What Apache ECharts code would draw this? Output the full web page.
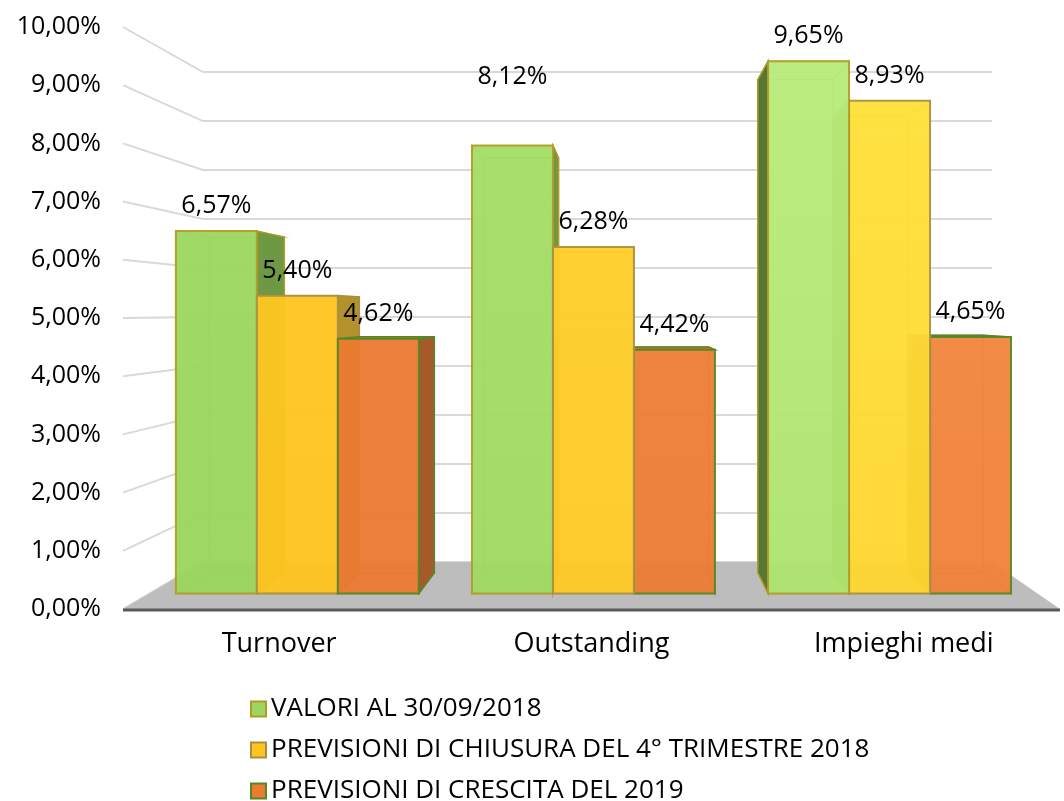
<!DOCTYPE html>
<html>
<head>
<meta charset="utf-8">
<script src="https://cdn.jsdelivr.net/npm/echarts@6/dist/echarts.min.js"></script>
<style>
  html, body { margin: 0; padding: 0; background: #fff; }
  #chart { width: 1064px; height: 801px; }
</style>
</head>
<body>
<div id="chart"></div>
<script>
  const CATEGORIES = ['Turnover', 'Outstanding', 'Impieghi medi'];
  const SERIES_NAMES = [
    'VALORI AL 30/09/2018',
    'PREVISIONI DI CHIUSURA DEL 4° TRIMESTRE 2018',
    'PREVISIONI DI CRESCITA DEL 2019'
  ];
  const VALORI = [6.57, 8.12, 9.65];
  const CHIUSURA = [5.40, 6.28, 8.93];
  const CRESCITA = [4.62, 4.42, 4.65];
  const Y_TICKS = [0, 1, 2, 3, 4, 5, 6, 7, 8, 9, 10];

  const FONT = 'Open Sans';

  // perspective: vanishing point and depth scales of each plane
  const VP_X = 0.54;        // fraction of grid width
  const VP_Y = 5.1;         // in axis units of the front plane
  const S_BAR_FRONT = 0.948;
  const S_BAR_BACK = 0.878;
  const S_WALL = 0.842;
  const BAR_FRAC = 0.2735;  // bar width / category band

  const STYLES = [
    { face: '#9bd65e', lit: '#cdfb8c', side: '#6f9844', edge: '#b39a24' },
    { face: '#ffc41f', lit: '#ffea42', side: '#b3922c', edge: '#a58f45' },
    { face: '#ec7a31', lit: '#f2873f', side: '#a65a2b', edge: '#4f8a27' }
  ];
  // Excel put this one label much higher than the others
  const LABEL_LIFT = { '1-0': 44 };

  const mix = (a, b, t) => echarts.color.lerp(Math.min(1, Math.max(0, t)), [a, b]);
  const fmt = v => v.toFixed(2).replace('.', ',') + '%';

  function vanish(cs, api) {
    return [cs.x + cs.width * VP_X, api.coord([0, VP_Y])[1]];
  }
  function proj(vp, x, y, s) {
    return [vp[0] + s * (x - vp[0]), vp[1] + s * (y - vp[1])];
  }

  function gridLineItem(params, api) {
    const cs = params.coordSys;
    const vp = vanish(cs, api);
    const y = api.coord([0, api.value(1)])[1];
    const l = cs.x, r = cs.x + cs.width;
    return {
      type: 'polyline',
      shape: { points: [[l, y], proj(vp, l, y, S_WALL), proj(vp, r, y, S_WALL)] },
      style: { stroke: '#d9d9d9', lineWidth: 2, fill: null }
    };
  }

  function floorItem(params, api) {
    const cs = params.coordSys;
    const vp = vanish(cs, api);
    const y = api.coord([0, 0])[1];
    const l = cs.x, r = cs.x + cs.width;
    return {
      type: 'group',
      children: [
        {
          type: 'polygon',
          shape: { points: [[l, y], [r, y], proj(vp, r, y, S_WALL), proj(vp, l, y, S_WALL)] },
          style: { fill: '#bdbdbd' }
        },
        {
          type: 'line',
          shape: { x1: l, y1: y + 1, x2: r, y2: y + 1 },
          style: { stroke: '#5a5a5a', lineWidth: 3 }
        }
      ]
    };
  }

  function barItem(si) {
    return function (params, api) {
      const cs = params.coordSys;
      const cat = api.value(0), v = api.value(1);
      const base = api.coord([cat, 0]);
      const top = api.coord([cat, v]);
      const bw = api.size([1, 0])[0] * BAR_FRAC;
      const x0 = base[0] + (si - 1.5) * bw, x1 = x0 + bw;
      const vp = vanish(cs, api);
      const P = (x, y, s) => proj(vp, x, y, s);
      const y0 = base[1], y1 = top[1];

      const f00 = P(x0, y0, S_BAR_FRONT), f10 = P(x1, y0, S_BAR_FRONT);
      const f11 = P(x1, y1, S_BAR_FRONT), f01 = P(x0, y1, S_BAR_FRONT);
      const b00 = P(x0, y0, S_BAR_BACK), b10 = P(x1, y0, S_BAR_BACK);
      const b11 = P(x1, y1, S_BAR_BACK), b01 = P(x0, y1, S_BAR_BACK);

      const st = STYLES[si];
      const cx = (x0 + x1) / 2;
      const pos = Math.max(0, (cx - cs.x) / cs.width);
      const t = Math.pow(pos, 2.2);
      const face = mix(st.face, st.lit, t * 0.75);
      const faceTop = mix(st.face, st.lit, t * 1.1 + 0.05);
      const inner = mix(st.face, '#000000', 0.14);
      const dist = Math.abs(cx - vp[0]);
      const zb = (3000 - Math.round(dist)) * 10;

      const faces = {
        back: [b00, b10, b11, b01],
        bottom: [f00, f10, b10, b00],
        left: [f00, b00, b01, f01],
        right: [f10, b10, b11, f11],
        top: [f01, f11, b11, b01]
      };
      const visible = {
        left: x0 > vp[0],
        right: x1 < vp[0],
        top: y1 > vp[1]
      };
      const sideFill = {
        left: mix(st.side, '#000000', 0.22),
        right: st.side,
        top: mix(st.face, '#000000', 0.1)
      };

      const children = [];
      ['back', 'bottom', 'left', 'right', 'top'].forEach(k => {
        if (visible[k]) return;
        children.push({
          type: 'polygon',
          z2: zb,
          shape: { points: faces[k] },
          style: { fill: mix(face, '#000000', 0.05), stroke: inner, lineWidth: 1.2, opacity: 0.6 }
        });
      });
      ['left', 'right', 'top'].forEach(k => {
        if (!visible[k]) return;
        children.push({
          type: 'polygon',
          z2: zb + 1,
          shape: { points: faces[k] },
          style: { fill: sideFill[k], stroke: st.edge, lineWidth: 1.5 }
        });
      });
      children.push({
        type: 'polygon',
        z2: zb + 2,
        shape: { points: [f00, f10, f11, f01] },
        style: {
          fill: new echarts.graphic.LinearGradient(0, 0, 0, 1, [
            { offset: 0, color: faceTop },
            { offset: 1, color: face }
          ]),
          opacity: 0.9,
          stroke: st.edge,
          lineWidth: 2
        }
      });
      const lift = 25 + (LABEL_LIFT[cat + '-' + si] || 0);
      children.push({
        type: 'text',
        z2: 100000,
        style: {
          text: fmt(v),
          x: (f01[0] + f11[0]) / 2,
          y: f01[1] - lift,
          align: 'center',
          verticalAlign: 'middle',
          fontSize: 25,
          fontFamily: FONT,
          fill: '#000'
        }
      });
      return { type: 'group', children };
    };
  }

  const seriesValues = [VALORI, CHIUSURA, CRESCITA];

  const option = {
    animation: false,
    backgroundColor: '#fff',
    grid: { left: 123, right: 4, top: 27, bottom: 192 },
    xAxis: {
      type: 'category',
      data: CATEGORIES,
      axisLine: { show: false },
      axisTick: { show: false },
      axisLabel: { color: '#000', fontSize: 27, fontFamily: FONT, margin: 22, interval: 0 }
    },
    yAxis: {
      type: 'value',
      min: Y_TICKS[0],
      max: Y_TICKS[Y_TICKS.length - 1],
      interval: 1,
      splitLine: { show: false },
      axisLine: { show: false },
      axisTick: { show: false },
      axisLabel: { color: '#000', fontSize: 25, fontFamily: FONT, margin: 22, formatter: fmt }
    },
    legend: {
      orient: 'vertical',
      left: 250,
      top: 696,
      height: 140,
      padding: 0,
      itemWidth: 15,
      itemHeight: 15,
      itemGap: 15,
      icon: 'rect',
      textStyle: { color: '#000', fontSize: 26, fontFamily: FONT, lineHeight: 24 },
      data: SERIES_NAMES.map((n, i) => ({
        name: n,
        itemStyle: { color: STYLES[i].face, borderColor: STYLES[i].edge, borderWidth: 2 }
      }))
    },
    series: [
      {
        type: 'custom',
        silent: true,
        z: 1,
        renderItem: gridLineItem,
        data: Y_TICKS.map(v => [0, v])
      },
      {
        type: 'custom',
        silent: true,
        z: 1,
        renderItem: floorItem,
        data: [[0, 0]]
      }
    ].concat(seriesValues.map((vals, si) => ({
      name: SERIES_NAMES[si],
      type: 'custom',
      z: 2,
      itemStyle: { color: STYLES[si].face, borderColor: STYLES[si].edge },
      renderItem: barItem(si),
      data: vals.map((v, c) => [c, v])
    })))
  };

  const myChart = echarts.init(document.getElementById('chart'));
  myChart.setOption(option);
</script>
</body>
</html>
